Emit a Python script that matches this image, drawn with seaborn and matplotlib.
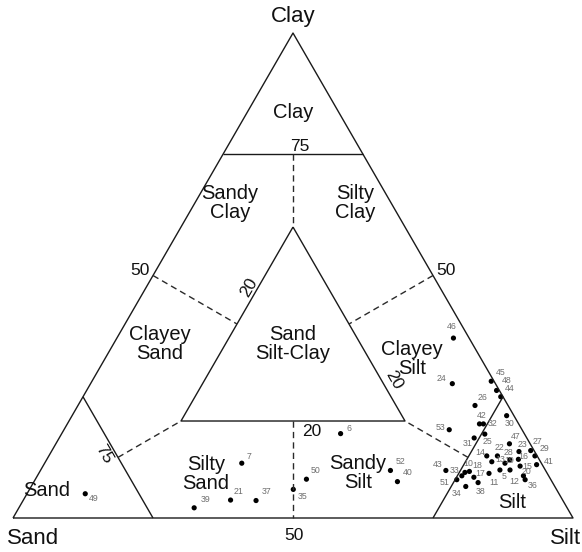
import numpy as np
import pandas as pd
import matplotlib
matplotlib.use("Agg")
import matplotlib.pyplot as plt
import seaborn as sns

# Sample compositions (%)
sample_ids = [5, 6, 7, 10, 11, 12, 13, 14, 15, 16, 17, 18, 19, 20, 21, 22, 23, 24, 25,
              26, 27, 28, 29, 30, 31, 32, 33, 34, 35, 36, 37, 38, 39, 40, 41, 42, 43,
              44, 45, 46, 47, 48, 49, 50, 51, 52, 53]
sand = [8.1, 32.8, 53.5, 14.6, 10.4, 6.3, 8.7, 9.0, 4.1, 3.7, 13.5, 13.7, 6.5, 4.5, 59.3,
        7.1, 2.8, 7.7, 7.1, 5.9, 0.6, 5.3, 0.4, 1.3, 9.4, 6.3, 15.5, 15.9, 47.0, 4.6, 54.8,
        13.3, 66.6, 27.6, 1.0, 7.0, 17.8, 0.4, 0.5, 2.8, 3.7, 0.5, 84.6, 43.6, 16.8, 27.7, 13.0]
silt = [82.0, 49.8, 35.2, 76.0, 80.4, 83.8, 79.7, 78.2, 85.2, 84.2, 78.1, 76.7, 82.2, 86.8,
        37.0, 80.1, 83.5, 64.6, 75.6, 70.9, 85.5, 82.7, 86.8, 77.6, 74.1, 74.3, 75.8, 77.6,
        47.1, 87.5, 41.6, 79.4, 31.3, 64.9, 88.0, 73.6, 72.4, 74.6, 71.3, 60.1, 81.0, 73.2,
        10.4, 48.4, 75.3, 62.5, 68.8]
clay = [9.9, 17.4, 11.3, 9.4, 9.2, 9.9, 11.6, 12.8, 10.7, 12.1, 8.4, 9.6, 11.3, 8.7, 3.7,
        12.8, 13.7, 27.7, 17.3, 23.2, 13.9, 12.0, 12.8, 21.1, 16.5, 19.4, 8.7, 6.5, 5.9, 7.9,
        3.6, 7.3, 2.1, 7.5, 11.0, 19.4, 9.8, 25.0, 28.2, 37.1, 15.3, 26.3, 5.0, 8.0, 7.9,
        9.8, 18.2]

# Class boundaries (sand, silt, clay)
solid_lines = [
    [(100, 0, 0), (0, 100, 0), (0, 0, 100), (100, 0, 0)],
    [(25, 0, 75), (0, 25, 75)],
    [(75, 25, 0), (75, 0, 25)],
    [(25, 75, 0), (0, 75, 25)],
    [(20, 20, 60), (60, 20, 20), (20, 60, 20), (20, 20, 60)],
]
dashed_lines = [
    [(12.5, 12.5, 75), (20, 20, 60)],
    [(40, 40, 20), (50, 50, 0)],
    [(50, 0, 50), (40, 20, 40)],
    [(0, 50, 50), (20, 40, 40)],
    [(75, 12.5, 12.5), (60, 20, 20)],
    [(12.5, 75, 12.5), (20, 60, 20)],
]

H = np.sqrt(3) / 2
S = 560.0  # pixels per unit side
X0, Y0 = 13.0, 518.0  # pixel position of the Sand corner


def tern(sa, si, cl):
    tot = np.asarray(sa) + np.asarray(si) + np.asarray(cl)
    si = np.asarray(si) / tot
    cl = np.asarray(cl) / tot
    return si + cl / 2, cl * H


def px(x, y):
    return (x - X0) / S, (Y0 - y) / S


sns.set_theme(style="white")
plt.rcParams["font.family"] = ["Liberation Sans", "DejaVu Sans"]

fig = plt.figure(figsize=(5.82, 5.52), dpi=100)
ax = fig.add_axes([0, 0, 1, 1])
ax.set_xlim(-X0 / S, (582 - X0) / S)
ax.set_ylim(-(552 - Y0) / S, Y0 / S)
ax.axis("off")

for line in solid_lines:
    a = np.array(line, dtype=float)
    x, y = tern(a[:, 0], a[:, 1], a[:, 2])
    ax.plot(x, y, color="#1a1a1a", lw=1.0, solid_capstyle="butt")
for line in dashed_lines:
    a = np.array(line, dtype=float)
    x, y = tern(a[:, 0], a[:, 1], a[:, 2])
    ax.plot(x, y, color="#2a2a2a", lw=1.0, dashes=(4.5, 3))

x, y = tern(sand, silt, clay)
df = pd.DataFrame({"id": sample_ids, "x": x, "y": y})
sns.scatterplot(data=df, x="x", y="y", color="black", s=14, edgecolor="none",
                legend=False, ax=ax)
ax.set_xlabel("")
ax.set_ylabel("")

# label placement (pixels right, pixels down)
label_offsets = {
    46: (-2, -12), 24: (-11, -5), 45: (9, -9), 48: (10, -10), 44: (9, -8), 26: (8, -8),
    30: (3, 8), 42: (2, -8), 32: (9, 0), 53: (-9, -2), 25: (3, 7), 31: (-7, 6),
    47: (6, -7), 23: (4, -7), 27: (7, -9), 29: (10, -7), 41: (12, -3), 22: (2, -8),
    14: (-7, -3), 28: (-1, -7), 16: (5, -3), 13: (8, -2), 19: (4, -3), 15: (7, 0),
    18: (8, -6), 10: (3, -9), 12: (4, 12), 5: (4, 7), 11: (5, 9), 17: (6, -4),
    20: (3, -4), 33: (-7, -5), 43: (-8, -6), 51: (-12, 3), 34: (-9, 7), 38: (2, 9),
    36: (8, 6), 6: (8, -5), 7: (7, -7), 52: (10, -9), 40: (10, -9), 50: (9, -9),
    35: (9, 7), 21: (8, -9), 37: (11, -9), 39: (11, -8), 49: (8, 5),
}
for sid, xi, yi in zip(sample_ids, x, y):
    dx, dy = label_offsets.get(sid, (6, -6))
    ax.annotate(str(sid), (xi, yi), xytext=(dx, -dy), textcoords="offset pixels",
                fontsize=6.3, color="#6e6e6e", ha="center", va="center")

big = 16
reg = 14.5
num = 12.5


def put(pxx, pyy, s, size, rot=0, **kw):
    xx, yy = px(pxx, pyy)
    ax.text(xx, yy, s, fontsize=size, ha=kw.pop("ha", "center"), va="center",
            rotation=rot, color="#111111", linespacing=1.05, **kw)


put(293, 16, "Clay", big)
put(33, 538, "Sand", big)
put(581, 538, "Silt", big, ha="right")
put(294, 535, "50", num)

put(293, 112, "Clay", reg)
put(300, 146, "75", num)
put(230, 203, "Sandy\nClay", reg)
put(355, 203, "Silty\nClay", reg)
put(140, 270, "50", num)
put(446, 270, "50", num)
put(249, 287, "20", num, rot=60)
put(160, 344, "Clayey\nSand", reg)
put(293, 344, "Sand\nSilt-Clay", reg)
put(412, 359, "Clayey\nSilt", reg)
put(394, 380, "20", num, rot=-60)
put(312, 432, "20", num)
put(104, 454, "75", num, rot=-60)
put(47, 490, "Sand", reg)
put(206, 474, "Silty\nSand", reg)
put(358, 473, "Sandy\nSilt", reg)
put(512, 503, "Silt", reg)

fig.savefig("out.png", dpi=100)
